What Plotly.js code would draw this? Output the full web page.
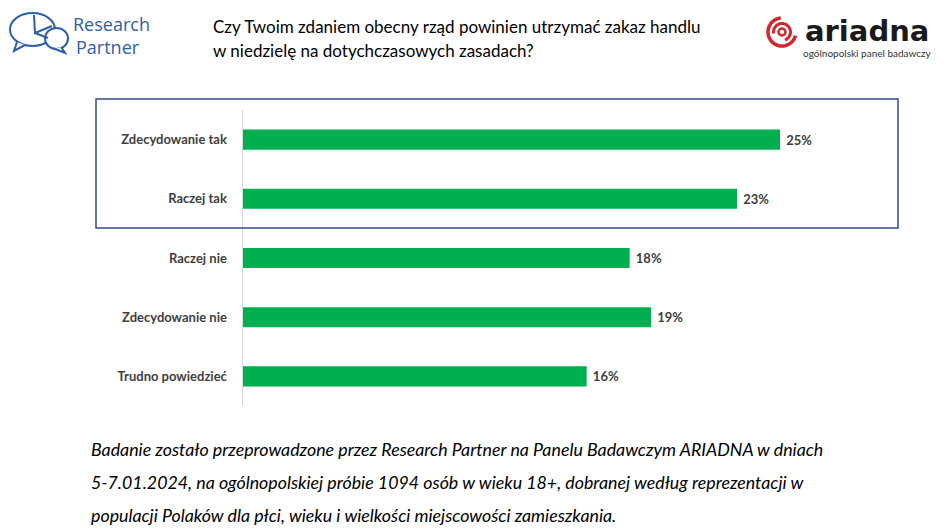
<!DOCTYPE html>
<html>
<head>
<meta charset="utf-8">
<script src="https://cdn.plot.ly/plotly-3.0.1.min.js"></script>
<style>html,body{margin:0;padding:0;background:#fff;}#chart{width:945px;height:532px;}</style>
</head>
<body>
<div id="chart"></div>
<script>
const categories = ["Zdecydowanie tak", "Raczej tak", "Raczej nie", "Zdecydowanie nie", "Trudno powiedzieć"];
const values = [25, 23, 18, 19, 16];
const titleLines = ["Czy Twoim zdaniem obecny rząd powinien utrzymać zakaz handlu", "w niedzielę na dotychczasowych zasadach?"];
const noteLines = [
  "Badanie zostało przeprowadzone przez Research Partner na Panelu Badawczym ARIADNA w dniach",
  "5-7.01.2024, na ogólnopolskiej próbie 1094 osób w wieku 18+, dobranej według reprezentacji w",
  "populacji Polaków dla płci, wieku i wielkości miejscowości zamieszkania."
];

const W = 945, H = 532;
const M = {l: 243, r: 50, t: 110, b: 126};
const PW = W - M.l - M.r, PH = H - M.t - M.b;
const X = px => (px - M.l) / PW;
const Y = py => (H - M.b - py) / PH;
function pathPx(pts) {
  return pts.map((p, i) => (i ? 'L ' : 'M ') + X(p[0]).toFixed(5) + ',' + Y(p[1]).toFixed(5)).join(' ');
}
function arcPx(cx, cy, r, a0, a1) { // angles in degrees, math convention (y up)
  const pts = [];
  const n = 40;
  for (let i = 0; i <= n; i++) {
    const a = (a0 + (a1 - a0) * i / n) * Math.PI / 180;
    pts.push([cx + r * Math.cos(a), cy - r * Math.sin(a)]);
  }
  return pathPx(pts);
}

const FONT = "Lato, 'Open Sans', sans-serif";

const trace = {
  type: 'bar',
  orientation: 'h',
  y: categories,
  x: values,
  marker: {color: '#00b050', line: {width: 0}},
  width: 0.34,
  text: values.map(v => ' ' + v + '%'),
  textposition: 'outside',
  cliponaxis: false,
  textfont: {family: FONT, size: 13, color: '#404040', weight: 'bold'},
  hoverinfo: 'skip'
};

const annotations = [];
titleLines.forEach((t, i) => annotations.push({
  text: t, xref: 'paper', yref: 'paper', x: X(211), y: Y(27 + i * 23), xanchor: 'left', yanchor: 'middle',
  showarrow: false, font: {family: FONT, size: 17, color: '#000'}
}));
noteLines.forEach((t, i) => annotations.push({
  text: '<i>' + t + '</i>', xref: 'paper', yref: 'paper', x: X(89), y: Y(449 + i * 33.2), xanchor: 'left', yanchor: 'middle',
  showarrow: false, font: {family: FONT, size: 17.8, color: '#000'}
}));
// Research Partner logo text
annotations.push({text: 'Research', xref: 'paper', yref: 'paper', x: X(71), y: Y(24), xanchor: 'left', yanchor: 'middle',
  showarrow: false, font: {family: "'Open Sans', sans-serif", size: 18, color: '#2f5fa7'}});
annotations.push({text: 'Partner', xref: 'paper', yref: 'paper', x: X(74), y: Y(47.5), xanchor: 'left', yanchor: 'middle',
  showarrow: false, font: {family: "'Open Sans', sans-serif", size: 18, color: '#2f5fa7'}});
// Ariadna logo text
annotations.push({text: '<b>ariadna</b>', xref: 'paper', yref: 'paper', x: X(803), y: Y(31), xanchor: 'left', yanchor: 'middle',
  showarrow: false, font: {family: "'DejaVu Sans', sans-serif", size: 29, color: '#1a1a1a'}});
annotations.push({text: 'ogólnopolski panel badawczy', xref: 'paper', yref: 'paper', x: X(934), y: Y(53), xanchor: 'right', yanchor: 'middle',
  showarrow: false, font: {family: "Lato, sans-serif", size: 10, color: '#333'}});

const blue = '#2f5fa7';
const red = '#d3272e';
const noFill = 'rgba(0,0,0,0)';
const shapes = [
  // highlight box around the two "tak" answers
  {type: 'rect', xref: 'paper', yref: 'paper', x0: X(96), x1: X(898), y0: Y(99), y1: Y(228),
   line: {color: '#2f4b8f', width: 1.5}, fillcolor: noFill},
  // Research Partner icon
  {type: 'circle', xref: 'paper', yref: 'paper', x0: X(10), x1: X(55), y0: Y(13), y1: Y(46), line: {color: blue, width: 2}, fillcolor: noFill},
  {type: 'path', xref: 'paper', yref: 'paper', line: {color: blue, width: 2}, fillcolor: '#fff',
   path: pathPx([[17, 42], [14, 51], [25, 45]])},
  {type: 'circle', xref: 'paper', yref: 'paper', x0: X(45), x1: X(68), y0: Y(28), y1: Y(49), line: {color: blue, width: 2}, fillcolor: '#fff'},
  {type: 'path', xref: 'paper', yref: 'paper', line: {color: blue, width: 2}, fillcolor: '#fff',
   path: pathPx([[61, 47], [65, 53], [55, 49]])},
  {type: 'path', xref: 'paper', yref: 'paper', line: {color: blue, width: 2}, fillcolor: noFill,
   path: pathPx([[34, 15], [35, 33], [52, 26]])},
  {type: 'path', xref: 'paper', yref: 'paper', line: {color: blue, width: 2}, fillcolor: noFill,
   path: pathPx([[35, 33], [48, 38]])},
  // Ariadna icon
  {type: 'path', xref: 'paper', yref: 'paper', line: {color: red, width: 3.5}, fillcolor: noFill, path: arcPx(782, 32, 14, 95, 345)},
  {type: 'path', xref: 'paper', yref: 'paper', line: {color: red, width: 3}, fillcolor: noFill, path: arcPx(782, 32, 8.5, -70, 190)},
  {type: 'circle', xref: 'paper', yref: 'paper', x0: X(778.5), x1: X(785.5), y0: Y(28.5), y1: Y(35.5), line: {color: red, width: 2.5}, fillcolor: noFill}
];

const layout = {
  width: W, height: H,
  margin: {l: M.l, r: M.r, t: M.t, b: M.b, pad: 0},
  paper_bgcolor: '#fff', plot_bgcolor: '#fff',
  showlegend: false,
  font: {family: FONT},
  xaxis: {range: [0, PW / 21.48], showgrid: false, zeroline: false, showticklabels: false, ticks: '', showline: false, fixedrange: true},
  yaxis: {type: 'category', autorange: false, range: [4.5, -0.5], showgrid: false, zeroline: false, ticks: '',
          showline: true, linecolor: '#d9d9d9', linewidth: 1.5, ticklabelstandoff: 12,
          tickfont: {family: FONT, size: 13, color: '#404040', weight: 'bold'}, fixedrange: true},
  annotations: annotations,
  shapes: shapes
};

Plotly.newPlot('chart', [trace], layout, {displayModeBar: false, staticPlot: true});
</script>
</body>
</html>
